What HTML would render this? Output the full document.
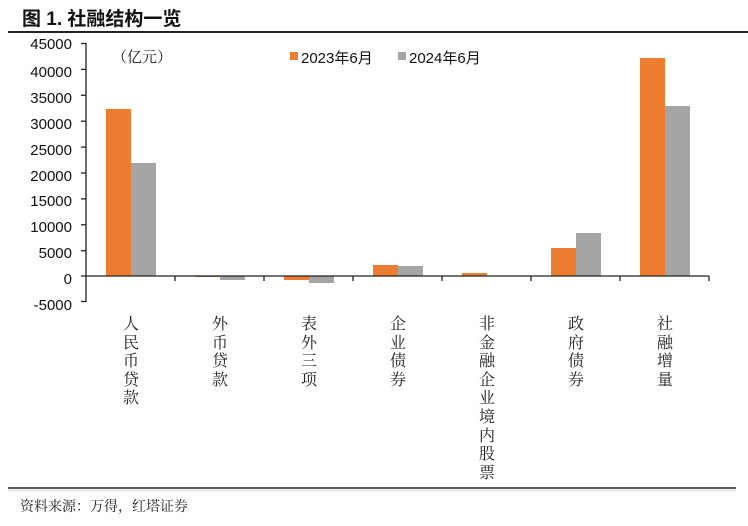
<!DOCTYPE html>
<html><head><meta charset="utf-8"><style>
html,body{margin:0;padding:0;background:#fff;}
svg{display:block;}
</style></head><body>
<svg width="748" height="526" viewBox="0 0 748 526" xmlns="http://www.w3.org/2000/svg">
<rect width="748" height="526" fill="#fff"/>
<text x="22" y="25" font-family="'Liberation Sans','Noto Sans CJK SC',sans-serif" font-size="19" font-weight="bold" fill="#111">图 1. 社融结构一览</text>
<line x1="8" y1="32" x2="748" y2="32" stroke="#222" stroke-width="2"/>
<line x1="8" y1="488" x2="736" y2="488" stroke="#222" stroke-width="1.5"/>
<line x1="8" y1="490.5" x2="736" y2="490.5" stroke="#ddd" stroke-width="1.5"/>
<text x="20" y="511" font-family="'Liberation Serif','Noto Serif CJK SC',serif" font-size="14" fill="#222">资料来源：万得，红塔证券</text>
<g font-family="'Liberation Sans',sans-serif" font-size="15" fill="#111" text-anchor="end">
<text x="72" y="49">45000</text><text x="72" y="77">40000</text><text x="72" y="103">35000</text>
<text x="72" y="129">30000</text><text x="72" y="155">25000</text><text x="72" y="181">20000</text>
<text x="72" y="206">15000</text><text x="72" y="232">10000</text><text x="72" y="258">5000</text>
<text x="72" y="284">0</text><text x="72" y="310">-5000</text>
</g>
<text x="112" y="62" font-family="'Liberation Serif','Noto Serif CJK SC',serif" font-size="15" fill="#222">（亿元）</text>
<g stroke="#222" stroke-width="1.3">
<line x1="86" y1="43" x2="86" y2="302"/>
<line x1="81" y1="43.5" x2="86" y2="43.5"/><line x1="81" y1="69.4" x2="86" y2="69.4"/><line x1="81" y1="95.3" x2="86" y2="95.3"/>
<line x1="81" y1="121.2" x2="86" y2="121.2"/><line x1="81" y1="147.1" x2="86" y2="147.1"/><line x1="81" y1="173" x2="86" y2="173"/>
<line x1="81" y1="198.9" x2="86" y2="198.9"/><line x1="81" y1="224.8" x2="86" y2="224.8"/><line x1="81" y1="250.7" x2="86" y2="250.7"/>
<line x1="81" y1="276" x2="86" y2="276"/><line x1="81" y1="301.5" x2="86" y2="301.5"/>
</g>
<g>
<rect x="106" y="109" width="25" height="167" fill="#ed7d31"/><rect x="131" y="163" width="25" height="113" fill="#a5a5a5"/>
<rect x="195" y="276" width="25" height="1" fill="#ed7d31"/><rect x="220" y="276" width="25" height="4" fill="#a5a5a5"/>
<rect x="284" y="276" width="25" height="4" fill="#ed7d31"/><rect x="309" y="276" width="25" height="7" fill="#a5a5a5"/>
<rect x="373" y="265" width="25" height="11" fill="#ed7d31"/><rect x="398" y="266" width="25" height="10" fill="#a5a5a5"/>
<rect x="462" y="273" width="25" height="3" fill="#ed7d31"/>
<rect x="551" y="248" width="25" height="28" fill="#ed7d31"/><rect x="576" y="233" width="25" height="43" fill="#a5a5a5"/>
<rect x="640" y="58" width="25" height="218" fill="#ed7d31"/><rect x="665" y="106" width="25" height="170" fill="#a5a5a5"/>
</g>
<g stroke="#222" stroke-width="1.3">
<line x1="86" y1="276" x2="709" y2="276"/>
<line x1="175" y1="276" x2="175" y2="281"/><line x1="264" y1="276" x2="264" y2="281"/><line x1="353" y1="276" x2="353" y2="281"/>
<line x1="442" y1="276" x2="442" y2="281"/><line x1="531" y1="276" x2="531" y2="281"/><line x1="620" y1="276" x2="620" y2="281"/>
<line x1="709" y1="276" x2="709" y2="281"/>
</g>
<rect x="290" y="52" width="8" height="8" fill="#ed7d31"/>
<text x="301" y="63" font-family="'Liberation Sans','Noto Sans CJK SC',sans-serif" font-size="15" fill="#111">2023年6月</text>
<rect x="398" y="52" width="8" height="8" fill="#a5a5a5"/>
<text x="409" y="63" font-family="'Liberation Sans','Noto Sans CJK SC',sans-serif" font-size="15" fill="#111">2024年6月</text>
<g font-family="'Noto Serif CJK SC','Liberation Serif',serif" font-size="16" fill="#222" text-anchor="middle">
<text x="131" y="329">人</text><text x="131" y="348">民</text><text x="131" y="366">币</text><text x="131" y="385">贷</text><text x="131" y="403">款</text>
<text x="220" y="329">外</text><text x="220" y="348">币</text><text x="220" y="366">贷</text><text x="220" y="385">款</text>
<text x="309" y="329">表</text><text x="309" y="348">外</text><text x="309" y="366">三</text><text x="309" y="385">项</text>
<text x="398" y="329">企</text><text x="398" y="348">业</text><text x="398" y="366">债</text><text x="398" y="385">券</text>
<text x="487" y="329">非</text><text x="487" y="348">金</text><text x="487" y="366">融</text><text x="487" y="385">企</text><text x="487" y="403">业</text><text x="487" y="422">境</text><text x="487" y="441">内</text><text x="487" y="459">股</text><text x="487" y="478">票</text>
<text x="576" y="329">政</text><text x="576" y="348">府</text><text x="576" y="366">债</text><text x="576" y="385">券</text>
<text x="665" y="329">社</text><text x="665" y="348">融</text><text x="665" y="366">增</text><text x="665" y="385">量</text>
</g>
</svg>
</body></html>
